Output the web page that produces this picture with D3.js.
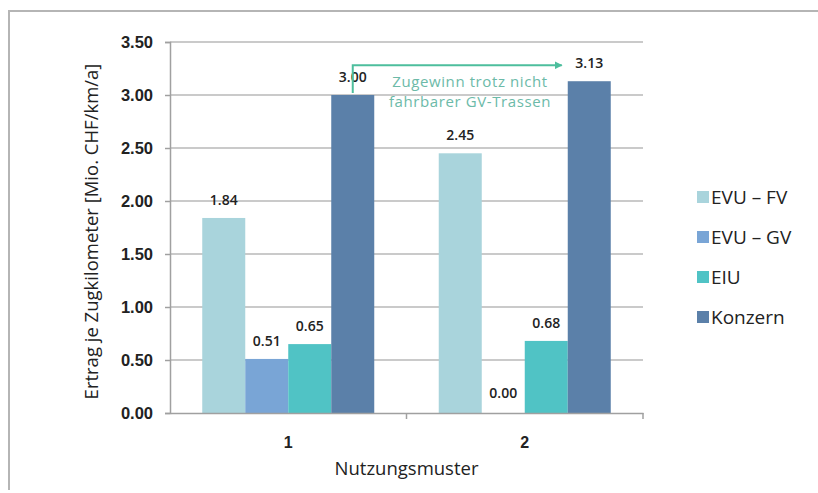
<!DOCTYPE html>
<html><head><meta charset="utf-8">
<script src="https://cdn.jsdelivr.net/npm/d3@7"></script>
<style>body{margin:0;background:#fff;} svg{display:block;font-family:"Open Sans",sans-serif;}</style>
</head><body>
<svg id="c" width="818" height="493"></svg>
<script>
const categories = ["1", "2"];
const seriesNames = ["EVU – FV", "EVU – GV", "EIU", "Konzern"];
const seriesColors = ["#a9d4dc", "#79a5d6", "#50c3c5", "#5b80a9"];
const valuesEVUFV = [1.84, 2.45];
const valuesEVUGV = [0.51, 0.00];
const valuesEIU = [0.65, 0.68];
const valuesKonzern = [3.00, 3.13];
const yTicks = [0, 0.5, 1, 1.5, 2, 2.5, 3, 3.5];
const annotationLines = ["Zugewinn trotz nicht", "fahrbarer GV-Trassen"];

const seriesValues = [valuesEVUFV, valuesEVUGV, valuesEIU, valuesKonzern];
const svg = d3.select("#c");

// frame (top and left)
svg.append("path").attr("d","M9,490 L9,11 L818,11").attr("fill","none").attr("stroke","#b5b5b5").attr("stroke-width",2);

const L = 170, R = 643, T = 42, B = 413;
const y = d3.scaleLinear().domain([0, 3.5]).range([B, T]);
const x0 = d3.scaleBand().domain(categories).range([L, R]).padding(0);
const grp = 172;
const x1 = d3.scaleBand().domain(seriesNames).range([(x0.bandwidth()-grp)/2, (x0.bandwidth()+grp)/2]).padding(0);

// gridlines
svg.append("g").selectAll("line").data(yTicks.filter(d=>d>0)).join("line")
  .attr("x1", L).attr("x2", R).attr("y1", d=>y(d)).attr("y2", d=>y(d))
  .attr("stroke", "#b8b8b8").attr("stroke-width", 1.5);

// y axis
const yAxis = d3.axisLeft(y).tickValues(yTicks).tickFormat(d3.format(".2f")).tickSize(5).tickPadding(12);
const gy = svg.append("g").attr("transform", `translate(${L},0)`).call(yAxis);
gy.select(".domain").attr("stroke", "#a0a0a0").attr("stroke-width", 1.5);
gy.selectAll(".tick line").attr("stroke", "#a0a0a0").attr("stroke-width", 1.5);
gy.selectAll(".tick text").attr("font-size", 16.5).attr("font-weight", 600).attr("fill", "#222");

// bars
const bars = [];
categories.forEach((c, i) => seriesNames.forEach((s, j) => bars.push({c, s, v: seriesValues[j][i], color: seriesColors[j]})));
svg.append("g").selectAll("rect").data(bars).join("rect")
  .attr("x", d => x0(d.c) + x1(d.s)).attr("width", x1.bandwidth())
  .attr("y", d => y(d.v)).attr("height", d => B - y(d.v))
  .attr("fill", d => d.color);

// value labels
svg.append("g").selectAll("text").data(bars).join("text")
  .attr("x", d => x0(d.c) + x1(d.s) + x1.bandwidth()/2)
  .attr("y", d => y(d.v) - (d.v === 0 ? 15 : 13))
  .attr("text-anchor", "middle").attr("font-size", 14).attr("font-weight", 600).attr("fill", "#222")
  .text(d => d3.format(".2f")(d.v));

// x axis
const xAxis = d3.axisBottom(x0).tickSize(0).tickPadding(24);
const gx = svg.append("g").attr("transform", `translate(0,${B})`).call(xAxis);
gx.select(".domain").attr("stroke", "#a0a0a0").attr("stroke-width", 1.5);
gx.selectAll(".tick text").attr("font-size", 16).attr("font-weight", 700).attr("fill", "#222");
// separator ticks
svg.append("g").selectAll("line").data([x0("2"), R]).join("line")
  .attr("x1", d=>d).attr("x2", d=>d).attr("y1", B).attr("y2", B+6)
  .attr("stroke", "#a0a0a0").attr("stroke-width", 1.5);

// axis titles
svg.append("text").attr("x", (L+R)/2).attr("y", 475).attr("text-anchor", "middle")
  .attr("font-size", 18.5).attr("font-weight", 500).attr("fill", "#222").text("Nutzungsmuster");
svg.append("text").attr("transform", `translate(98,${(T+B)/2 + 4}) rotate(-90)`).attr("text-anchor", "middle")
  .attr("font-size", 18.5).attr("font-weight", 500).attr("fill", "#222").text("Ertrag je Zugkilometer [Mio. CHF/km/a]");

// annotation arrow
const ax = x0("1") + x1("Konzern") + x1.bandwidth()/2;
const arrowY = y(3.28);
svg.append("defs").append("marker").attr("id","ah").attr("viewBox","0 0 10 10").attr("refX",9).attr("refY",5)
  .attr("markerWidth",4).attr("markerHeight",4).attr("orient","auto")
  .append("path").attr("d","M0,0 L10,5 L0,10 Z").attr("fill","#4dbe9d");
svg.append("path").attr("d", `M${ax},${y(3.02)} L${ax},${arrowY} L${x0("2") + x1("Konzern") - 6},${arrowY}`)
  .attr("fill","none").attr("stroke","#4dbe9d").attr("stroke-width",2).attr("marker-end","url(#ah)");
svg.append("g").selectAll("text").data(annotationLines).join("text")
  .attr("x", 470).attr("y", (d,i) => 87 + i*20).attr("text-anchor","middle")
  .attr("font-size", 15).attr("letter-spacing", 0.6).attr("fill", "#6cbaa8").text(d => d);

// legend
const lg = svg.append("g").selectAll("g").data(seriesNames).join("g")
  .attr("transform", (d,i) => `translate(697,${197 + i*40})`);
lg.append("rect").attr("x", 0).attr("y", -6).attr("width", 12).attr("height", 12).attr("fill", (d,i)=>seriesColors[i]);
lg.append("text").attr("x", 14).attr("y", 7).attr("font-size", 19).attr("font-weight", 500).attr("fill","#222").text(d=>d);
</script>
</body></html>
